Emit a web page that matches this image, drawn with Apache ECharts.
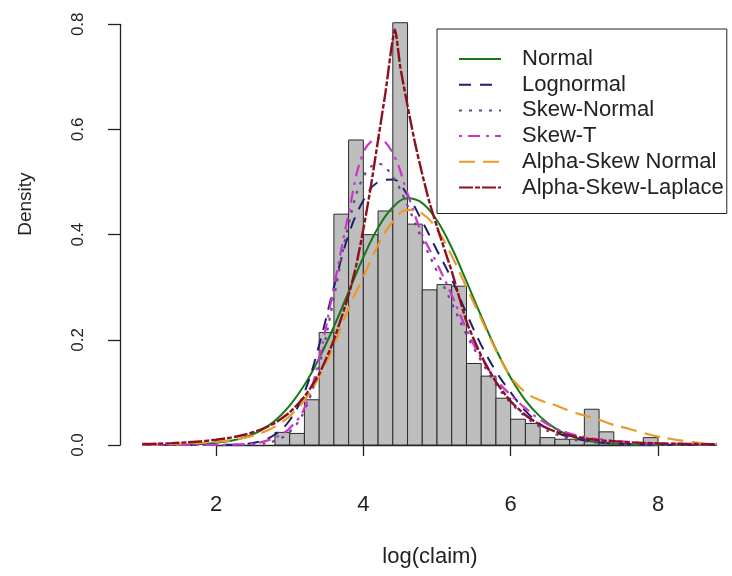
<!DOCTYPE html>
<html>
<head>
<meta charset="utf-8">
<script src="https://cdn.jsdelivr.net/npm/echarts@6/dist/echarts.min.js"></script>
<style>html,body{margin:0;padding:0;background:#fff}#c{width:732px;height:576px}</style>
</head>
<body>
<div id="c"></div>
<script>
// Histogram (density scale), bins of width 0.2
const histBreaks = [2.8,3.0,3.2,3.4,3.6,3.8,4.0,4.2,4.4,4.6,4.8,5.0,5.2,5.4,5.6,5.8,6.0,6.2,6.4,6.6,6.8,7.0,7.2,7.4,7.6,7.8,8.0];
const histDensity = [0.024,0.022,0.086,0.214,0.439,0.580,0.400,0.445,0.803,0.420,0.295,0.305,0.302,0.155,0.131,0.089,0.049,0.041,0.014,0.011,0.011,0.068,0.025,0,0,0.014];

// Fitted density curves
const xs = [1.0,1.2,1.4,1.6,1.8,2.0,2.2,2.4,2.6,2.8,3.0,3.2,3.4,3.6,3.8,4.0,4.2,4.4,4.6,4.8,5.0,5.2,5.4,5.6,5.8,6.0,6.2,6.4,6.6,6.8,7.0,7.2,7.4,7.6,7.8,8.0,8.2,8.4,8.6,8.8];
const normalY = [0,0.0001,0.0003,0.0008,0.0018,0.0039,0.0079,0.015,0.027,0.046,0.075,0.114,0.165,0.225,0.291,0.357,0.413,0.452,0.469,0.460,0.427,0.375,0.311,0.245,0.182,0.128,0.085,0.054,0.032,0.018,0.0096,0.0049,0.0023,0.0011,0.0005,0.0002,0.0001,0,0,0];
const lognormalY = [0,0,0,0,0,0.0001,0.0005,0.002,0.007,0.02,0.047,0.10,0.19,0.30,0.40,0.465,0.50,0.505,0.475,0.425,0.37,0.315,0.25,0.19,0.14,0.10,0.065,0.04,0.025,0.015,0.009,0.005,0.003,0.002,0.001,0.0005,0.0003,0.0002,0.0001,0.0001];
const skewNormalY = [0,0,0,0,0,0,0,0.0005,0.002,0.008,0.025,0.065,0.15,0.28,0.42,0.51,0.535,0.51,0.455,0.39,0.33,0.27,0.21,0.16,0.115,0.08,0.054,0.034,0.021,0.012,0.007,0.004,0.002,0.001,0.0005,0.0002,0.0001,0,0,0];
const skewTY = [0,0,0,0,0,0.0003,0.0008,0.002,0.005,0.014,0.032,0.07,0.165,0.30,0.44,0.556,0.583,0.555,0.478,0.40,0.345,0.285,0.22,0.165,0.125,0.095,0.07,0.048,0.032,0.022,0.015,0.011,0.008,0.006,0.004,0.003,0.002,0.002,0.001,0.001];
const alphaSkewNormalY = [0.001,0.0013,0.002,0.003,0.004,0.006,0.009,0.014,0.022,0.035,0.055,0.085,0.13,0.19,0.26,0.32,0.38,0.425,0.447,0.44,0.41,0.36,0.30,0.24,0.18,0.13,0.10,0.085,0.076,0.065,0.056,0.048,0.038,0.031,0.023,0.016,0.011,0.007,0.003,0.002];
const aslX = [1.0,1.2,1.4,1.6,1.8,2.0,2.2,2.4,2.6,2.8,3.0,3.2,3.4,3.6,3.8,3.9,4.0,4.1,4.2,4.3,4.43,4.5,4.6,4.7,4.8,4.9,5.0,5.2,5.4,5.6,5.8,6.0,6.2,6.4,6.6,6.8,7.0,7.2,7.4,7.6,7.8,8.0,8.2,8.4,8.6,8.8];
const aslY = [0.0018,0.0025,0.0035,0.005,0.007,0.01,0.014,0.02,0.029,0.042,0.062,0.092,0.135,0.20,0.285,0.34,0.41,0.49,0.58,0.67,0.79,0.72,0.645,0.575,0.515,0.46,0.415,0.33,0.235,0.17,0.12,0.083,0.057,0.038,0.026,0.018,0.013,0.009,0.007,0.005,0.004,0.003,0.0025,0.002,0.0017,0.0015];

const seriesNames = ['Normal','Lognormal','Skew-Normal','Skew-T','Alpha-Skew Normal','Alpha-Skew-Laplace'];
const xTicks = [2,4,6,8];
const yTicks = [0,0.2,0.4,0.6,0.8];
const plotXRange = [0.7, 8.9];   // data region of the plot (kept inside the canvas)

const FONT = 'Liberation Sans, Arial, sans-serif';
const pair = (xa, ya) => xa.map((x, i) => [x, ya[i]]);
const histData = histDensity.map((d, i) => [histBreaks[i], histBreaks[i + 1], d]);

function lineSeries(name, xa, ya, color, type, width, smooth) {
  return {
    name, type: 'line', data: pair(xa, ya), symbol: 'none', showSymbol: false,
    xAxisIndex: 0, yAxisIndex: 0,
    smooth: smooth, clip: false, z: 3,
    lineStyle: { color, width, type, cap: 'butt' },
    itemStyle: { color }
  };
}

const axisCol = '#222';
const chart = echarts.init(document.getElementById('c'), null, { renderer: 'canvas' });
chart.setOption({
  animation: false,
  backgroundColor: '#ffffff',
  textStyle: { fontFamily: FONT },
  grid: [
    // data region (same pixel scale as the axes region, wider x range)
    { left: 120.23, width: 604.1, top: 24.3, bottom: 131, containLabel: false },
    // axes region: R axes only span the tick range
    { left: 216, right: 74, top: 24.3, bottom: 131, containLabel: false }
  ],
  xAxis: [
    { gridIndex: 0, type: 'value', min: plotXRange[0], max: plotXRange[1], show: false },
    {
      gridIndex: 1, type: 'value', min: xTicks[0], max: xTicks[xTicks.length - 1], interval: 2,
      offset: 21,
      axisLine: { show: true, lineStyle: { color: axisCol, width: 1.3 } },
      axisTick: { show: true, length: 11, lineStyle: { color: axisCol, width: 1.3 } },
      axisLabel: { fontSize: 22, color: axisCol, margin: 28, fontFamily: FONT },
      splitLine: { show: false },
      name: 'log(claim)', nameLocation: 'middle', nameGap: 80,
      nameTextStyle: { fontSize: 22, color: axisCol, fontFamily: FONT, padding: [0, 14, 0, 0] }
    }
  ],
  yAxis: [
    { gridIndex: 0, type: 'value', min: yTicks[0], max: yTicks[yTicks.length - 1], show: false },
    {
      gridIndex: 1, type: 'value', min: yTicks[0], max: yTicks[yTicks.length - 1], interval: 0.2,
      offset: 96,
      axisLine: { show: true, lineStyle: { color: axisCol, width: 1.3 } },
      axisTick: { show: true, length: 12, lineStyle: { color: axisCol, width: 1.3 } },
      axisLabel: { fontSize: 17, color: axisCol, margin: 33, rotate: 90, fontFamily: FONT,
        formatter: v => v.toFixed(1) },
      splitLine: { show: false },
      name: 'Density', nameLocation: 'middle', nameGap: 85, nameRotate: 90,
      nameTextStyle: { fontSize: 19, color: axisCol, fontFamily: FONT, padding: [0, 0, 0, 61] }
    }
  ],
  legend: {
    data: seriesNames, orient: 'vertical', left: 437, top: 29,
    padding: [19, 3, 15, 21], borderColor: axisCol, borderWidth: 1, borderRadius: 0,
    itemWidth: 42, itemHeight: 14, itemGap: 3.7, selectedMode: false,
    itemStyle: { opacity: 0 },
    textStyle: { fontSize: 22, color: axisCol, fontFamily: FONT, lineHeight: 22, padding: [0, 0, 0, 16] }
  },
  series: [
    {
      name: 'hist', type: 'custom', clip: false, z: 1,
      xAxisIndex: 0, yAxisIndex: 0,
      data: histData, encode: { x: [0, 1], y: 2 },
      renderItem: function (params, api) {
        const p0 = api.coord([api.value(0), api.value(2)]);
        const p1 = api.coord([api.value(1), 0]);
        return { type: 'rect',
          shape: { x: p0[0], y: p0[1], width: p1[0] - p0[0], height: p1[1] - p0[1] },
          style: { fill: '#bebebe', stroke: '#2a2a2a', lineWidth: 1 } };
      }
    },
    lineSeries(seriesNames[0], xs, normalY, '#157a15', 'solid', 2, 0.4),
    lineSeries(seriesNames[1], xs, lognormalY, '#1f1f70', [12, 9], 2, 0.4),
    lineSeries(seriesNames[2], xs, skewNormalY, '#6a4590', [3, 7], 2.2, 0.4),
    lineSeries(seriesNames[3], xs, skewTY, '#c936c9', [3, 6, 12, 6], 2.2, 0.4),
    lineSeries(seriesNames[4], xs, alphaSkewNormalY, '#eb9a28', [16, 8], 2.2, 0.4),
    lineSeries(seriesNames[5], aslX, aslY, '#8b1020', [14, 2, 5, 2], 2.4, 0.2)
  ]
});
</script>
</body>
</html>
